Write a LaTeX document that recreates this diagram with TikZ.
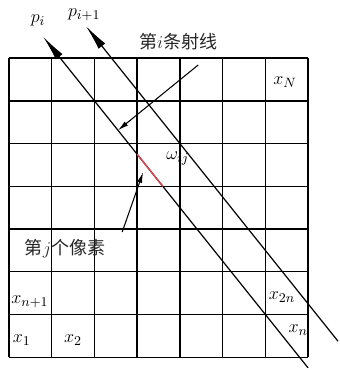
\documentclass[tikz,border=0pt]{standalone}
\usepackage{fontspec}
\setmainfont{Liberation Serif}
\newfontfamily\cjk{Noto Sans CJK SC}
\usepackage{tikz}
\usetikzlibrary{arrows.meta}
\definecolor{hitred}{RGB}{226,70,80}

\begin{document}
\begin{tikzpicture}[x=1cm, y=1cm, every node/.style={font=\fontsize{13}{15}\selectfont},
  raytip/.style={-{Latex[length=6mm,width=2mm]}, line width=0.8pt},
  pointer/.style={-{Latex[length=2.5mm,width=1.2mm]}, line width=0.7pt},
  cjklabel/.style={font=\cjk\fontsize{12}{14}\selectfont, text=black!85}]
\useasboundingbox (-0.21,-0.30) rectangle (7.73,8.36);
% ---- pixel grid, 7 x 7
\draw[line width=0.9pt] (0,0) grid (7,7);
% ---- two neighbouring rays
\coordinate (ray-i-tip) at (0.8,7.5);
\coordinate (ray-i-end) at (7,-0.25);
\coordinate (ray-ii-tip) at (1.8,7.75);
\coordinate (ray-ii-end) at (7.7,0.375);
\draw[raytip] (ray-i-end) -- (ray-i-tip);
\draw[raytip] (ray-ii-end) -- (ray-ii-tip);
\node (lab-pi) at (0.68,7.88) {$p_i$};
\node (lab-pii) at (1.76,8.02) {$p_{i+1}$};
% ---- part of ray i inside pixel j
\coordinate (hit-in) at (3,4.75);
\coordinate (hit-out) at (3.6,4);
\draw[hitred, line width=0.9pt] (hit-in) -- (hit-out);
\node (lab-w) at (3.95,4.65) {$\omega_{ij}$};
% ---- callouts
\node[cjklabel] (lab-ray) at (3.96,7.38) {第$i$条射线};
\coordinate (ray-from) at (4.43,6.84);
\coordinate (ray-to) at (2.55,5.31);
\draw[pointer] (ray-from) -- (ray-to);
\node[cjklabel] (lab-pix) at (1.31,2.53) {第$j$个像素};
\coordinate (pix-from) at (2.65,2.93);
\coordinate (pix-to) at (3.14,4.33);
\draw[pointer] (pix-from) -- (pix-to);
% ---- pixel values
\node (x-N) at (6.46,6.44) {$x_N$};
\node (x-n1) at (0.49,1.3) {$x_{n+1}$};
\node (x-2n) at (6.39,1.4) {$x_{2n}$};
\node (x-1) at (0.3,0.4) {$x_1$};
\node (x-2) at (1.5,0.4) {$x_2$};
\node (x-n) at (6.77,0.63) {$x_n$};
\end{tikzpicture}
\end{document}
